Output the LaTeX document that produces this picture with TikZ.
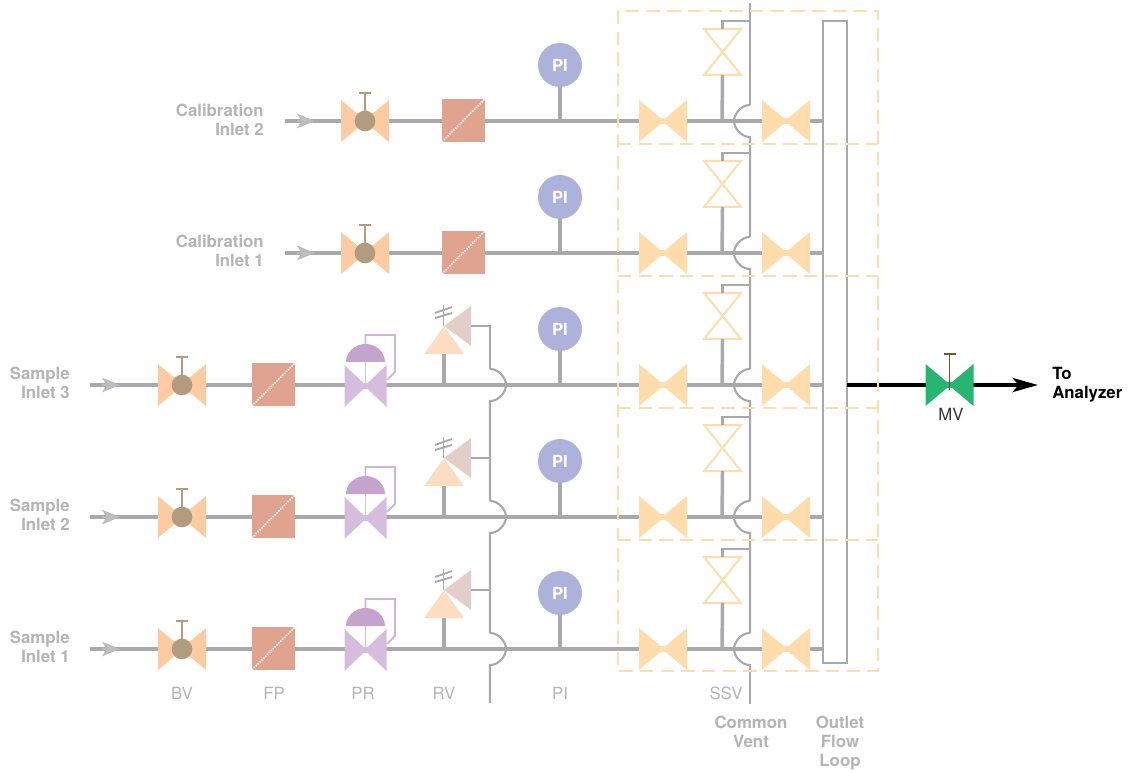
\documentclass[tikz,border=0pt]{standalone}
\usepackage{fontspec}
\setmainfont{TeX Gyre Heros}
\usetikzlibrary{arrows.meta}
\definecolor{pipe}{HTML}{A9A9AD}
\definecolor{lbl}{HTML}{B4B4B7}
\definecolor{bvc}{HTML}{FDCBA1}
\definecolor{knob}{HTML}{B39B80}
\definecolor{fpc}{HTML}{DFA38F}
\definecolor{prc}{HTML}{D5BEDD}
\definecolor{dome}{HTML}{C4A3CC}
\definecolor{rva}{HTML}{FDDDC1}
\definecolor{rvb}{HTML}{E3CEC9}
\definecolor{ssv}{HTML}{FEDCAC}
\definecolor{pic}{HTML}{AEB1DA}
\definecolor{mvc}{HTML}{27B573}
\definecolor{mvs}{HTML}{7A5230}
\tikzset{
  x=0.75pt,y=-0.75pt,
  mainpipe/.style={draw=pipe,line width=3pt},
  thinpipe/.style={draw=pipe,line width=1.6pt},
  stempipe/.style={draw=pipe,line width=2.6pt},
  lab/.style={text=lbl,font=\fontsize{12.6}{14.2}\selectfont,inner sep=0pt,align=center},
  blab/.style={lab,font=\fontsize{12.6}{14.2}\selectfont\bfseries},
  pics/hvalve/.style={code={
    \fill[#1] (-24,-21)--(1,0)--(-24,21)--cycle;
    \fill[#1] (24,-21)--(-1,0)--(24,21)--cycle;
    \fill[#1] (-3,-2.6) rectangle (3,2.6);
  }},
  pics/crossvalve/.style={code={
    \draw[ssv,line width=1.5pt,line join=miter] (-18.5,-23)--(18.5,-23)--(-18.5,23)--(18.5,23)--cycle;
  }},
}
\begin{document}
\begin{tikzpicture}
\useasboundingbox (0,0) rectangle (1131,773);
\node[draw=pipe,line width=1.8pt,fill=none,rectangle,inner sep=0pt,outer sep=0pt,minimum width=18pt,minimum height=481.5pt] (loop) at (835,342) {};
% common vent
\coordinate (ventTop) at (750,3);
\coordinate (ventEnd) at (750,704);
\draw[thinpipe] (ventTop)--(750,105);
\foreach \y/\n in {121/253,253/385,385/517,517/649,649/688}{
  \pgfmathtruncatemacro{\a}{\y-16}\pgfmathtruncatemacro{\b}{\y-7}\pgfmathtruncatemacro{\c}{\y+7}\pgfmathtruncatemacro{\d}{\y+16}\pgfmathtruncatemacro{\e}{\n-16}
  \draw[thinpipe] (750,\a) .. controls (741,\a) and (734,\b) .. (734,\y) .. controls (734,\c) and (741,\d) .. (750,\d) -- (750,\e);
}
\draw[thinpipe] (750,672)--(ventEnd);
% relief vent
\coordinate (rvTop) at (471,326);
\coordinate (rvEnd) at (490,703);
\draw[thinpipe] (rvTop)--(490,326)--(490,369);
\foreach \y/\n in {385/517,517/649,649/720}{
  \pgfmathtruncatemacro{\a}{\y-16}\pgfmathtruncatemacro{\b}{\y-7}\pgfmathtruncatemacro{\c}{\y+7}\pgfmathtruncatemacro{\d}{\y+16}\pgfmathtruncatemacro{\e}{\n-16}
  \ifnum\n<700
    \draw[thinpipe] (490,\a) .. controls (499,\a) and (506,\b) .. (506,\y) .. controls (506,\c) and (499,\d) .. (490,\d) -- (490,\e);
  \else
    \draw[thinpipe] (490,\a) .. controls (499,\a) and (506,\b) .. (506,\y) .. controls (506,\c) and (499,\d) .. (490,\d) -- (rvEnd);
  \fi
}
% rows
\foreach \r/\y/\inx/\bvx/\fpx in {5/121/285/365/463.5,4/253/285/365/463.5,3/385/90/182/273.5,2/517/90/182/273.5,1/649/90/182/273.5}{
  \pgfmathtruncatemacro{\ypi}{\y-56}
  \pgfmathtruncatemacro{\yv}{\y-69}
  \pgfmathtruncatemacro{\yb}{\y-100}
  \pgfmathsetmacro{\tipx}{\inx+30}
  \pgfmathsetmacro{\tailx}{\inx+12}
  \coordinate (in\r) at (\inx,\y);
  \coordinate (bv\r) at (\bvx,\y);
  \coordinate (pit\r) at (560,\y);
  \coordinate (ssvt\r) at (722,\y);
  \coordinate (sl\r) at (663,\y);
  \coordinate (sr\r) at (786,\y);
  \coordinate (cv\r) at (722.5,\yv);
  \draw[mainpipe] (in\r) -- (in\r -| loop.west);
  % inlet arrow
  \coordinate (at\r) at (\tailx,\y);
  \coordinate (ah\r) at (\tipx,\y);
  \draw[draw=pipe!80!white,line width=0.8pt,-{Stealth[length=13.5pt,width=11pt,inset=3.5pt,fill=pipe!75!white]}] (at\r)--(ah\r);
  % ball valve
  \pic at (bv\r) {hvalve=bvc};
  \node[circle,fill=knob,inner sep=0pt,minimum size=15.5pt] (knob\r) at (bv\r) {};
  \draw[draw=knob,line width=1.6pt] (knob\r.center)--++(0,-28) ++(-6,0)--++(12,0);
  % filter
  \node[rectangle,fill=fpc,inner sep=0pt,minimum size=32pt] (fp\r) at ([yshift=0.5pt]\fpx,\y) {};
  \draw[white,line width=1pt,dash pattern=on 1.2pt off 0.8pt] (fp\r.south west)--(fp\r.north east);
  % PI
  \node[circle,fill=pic,inner sep=0pt,minimum size=33pt,text=white,font=\fontsize{12.5}{14}\selectfont\bfseries] (pi\r) at (560,\ypi) {PI};
  \draw[stempipe] (pi\r.south)--(pit\r);
  % SSV
  \pic at (sl\r) {hvalve=ssv};
  \pic at (sr\r) {hvalve=ssv};
  \pic at (cv\r) {crossvalve};
  \draw[stempipe] ([yshift=-17.25pt]cv\r.center)--(ssvt\r);
  \coordinate (cvt\r) at (750,\yb);
  \draw[thinpipe] ([yshift=17.25pt]cv\r.center)--(722.5,\yb)--(cvt\r);
}
% sample rows only: PR and RV
\foreach \r/\y in {3/385,2/517,1/649}{
  \pgfmathtruncatemacro{\yd}{\y-23}
  \pgfmathtruncatemacro{\ydt}{\y-41}
  \pgfmathtruncatemacro{\yf}{\y-50}
  \pgfmathtruncatemacro{\yg}{\y-13}
  \pgfmathtruncatemacro{\yh}{\y-5}
  \pgfmathtruncatemacro{\ypk}{\y-59}
  \pgfmathtruncatemacro{\ypb}{\y-31}
  \pgfmathtruncatemacro{\ypt}{\y-79}
  \pgfmathtruncatemacro{\ysa}{\y-72}
  \pgfmathtruncatemacro{\ysb}{\y-78}
  \pgfmathtruncatemacro{\ysc}{\y-67}
  \pgfmathtruncatemacro{\ysd}{\y-72}
  \pgfmathtruncatemacro{\yq}{\y-33}
  \coordinate (prc\r) at (365.5,\y);
  \coordinate (prd\r) at (365.5,\yd);
  \draw[dome!80!white,line width=1.4pt,line join=miter] (prd\r)--(365.5,\yf)--(395,\yf)--(395,\yg)--(387,\yh);
  \fill[prc] (344.5,\yd+3)--(366.5,\y+1)--(344.5,\y+22)--cycle;
  \fill[prc] (386.5,\yd+3)--(364.5,\y+1)--(386.5,\y+22)--cycle;
  \fill[prc] (362.5,\y-2) rectangle (368.5,\y+4);
  \draw[dome!70!white,line width=1.2pt] (prd\r)--(prc\r);
  \fill[dome] (346,\yd) .. controls (346,\yq) and (355,\ydt) .. (365.5,\ydt) .. controls (376,\ydt) and (385,\yq) .. (385,\yd) -- cycle;
  % relief valve
  \coordinate (rva\r) at (444,\ypk);
  \coordinate (rvb\r) at (444,\ypb);
  \coordinate (rvp\r) at (444,\y);
  \coordinate (rvc\r) at (490,\ypk);
  \coordinate (rvd\r) at (471,\ypk);
  \draw[stempipe] (rvb\r)--(rvp\r);
  \draw[thinpipe] (rvd\r)--(rvc\r);
  \draw[draw=pipe,line width=1.4pt] (443.5,\ypk)--(443.5,\ypt-1);
  \draw[draw=pipe,line width=1.4pt] (435,\ysa)--(452,\ysb);
  \draw[draw=pipe,line width=1.4pt] (435,\ysc)--(452,\ysd);
  \fill[rva] (rva\r)--(464,\ypb)--(424,\ypb)--cycle;
  \fill[rvb] (rva\r)--(471,\ypk-20)--(471,\ypk+20)--cycle;
}
% outlet
\coordinate (mv) at (949.5,385);
\coordinate (out) at (1038,385);
\draw[black,line width=3pt,-{Stealth[length=19pt,width=10.5pt,inset=4.5pt]}] (loop.east |- mv)--(out);
\pic at (mv) {hvalve=mvc};
\draw[mvs,line width=1.4pt] ([yshift=-4pt]mv.center)--++(0,-36) ++(-6,0)--++(12,0);
% dashed box
\begin{scope}[draw=ssv,line width=1.5pt,dash pattern=on 10pt off 5.5pt]
\draw (618,11) rectangle (878,671);
\draw (618,144)--(878,144);
\draw (618,276)--(878,276);
\draw (618,408)--(878,408);
\draw (618,540)--(878,540);
\end{scope}
% labels
\node[blab,align=right,anchor=east] (l5) at (264,120) {Calibration\\Inlet 2};
\node[blab,align=right,anchor=east] (l4) at (264,251) {Calibration\\Inlet 1};
\node[blab,align=right,anchor=east] (l3) at (70,383) {Sample\\Inlet 3};
\node[blab,align=right,anchor=east] (l2) at (70,515) {Sample\\Inlet 2};
\node[blab,align=right,anchor=east] (l1) at (70,647) {Sample\\Inlet 1};
\node[lab] (tbv) at (182,693) {BV};
\node[lab] (tfp) at (274,693) {FP};
\node[lab] (tpr) at (363,693) {PR};
\node[lab] (trv) at (444,693) {RV};
\node[lab] (tpi) at (560,693) {PI};
\node[lab] (tss) at (726,693) {SSV};
\node[blab] (tcv) at (751,732) {Common\\Vent};
\node[blab] (tol) at (840,743) {Outlet\\Flow\\Loop};
\node[lab,text=black!80] (tmv) at (951,414) {MV};
\node[blab,text=black,align=left,anchor=west] (tto) at (1052,385) {To\\Analyzer};
\end{tikzpicture}
\end{document}
